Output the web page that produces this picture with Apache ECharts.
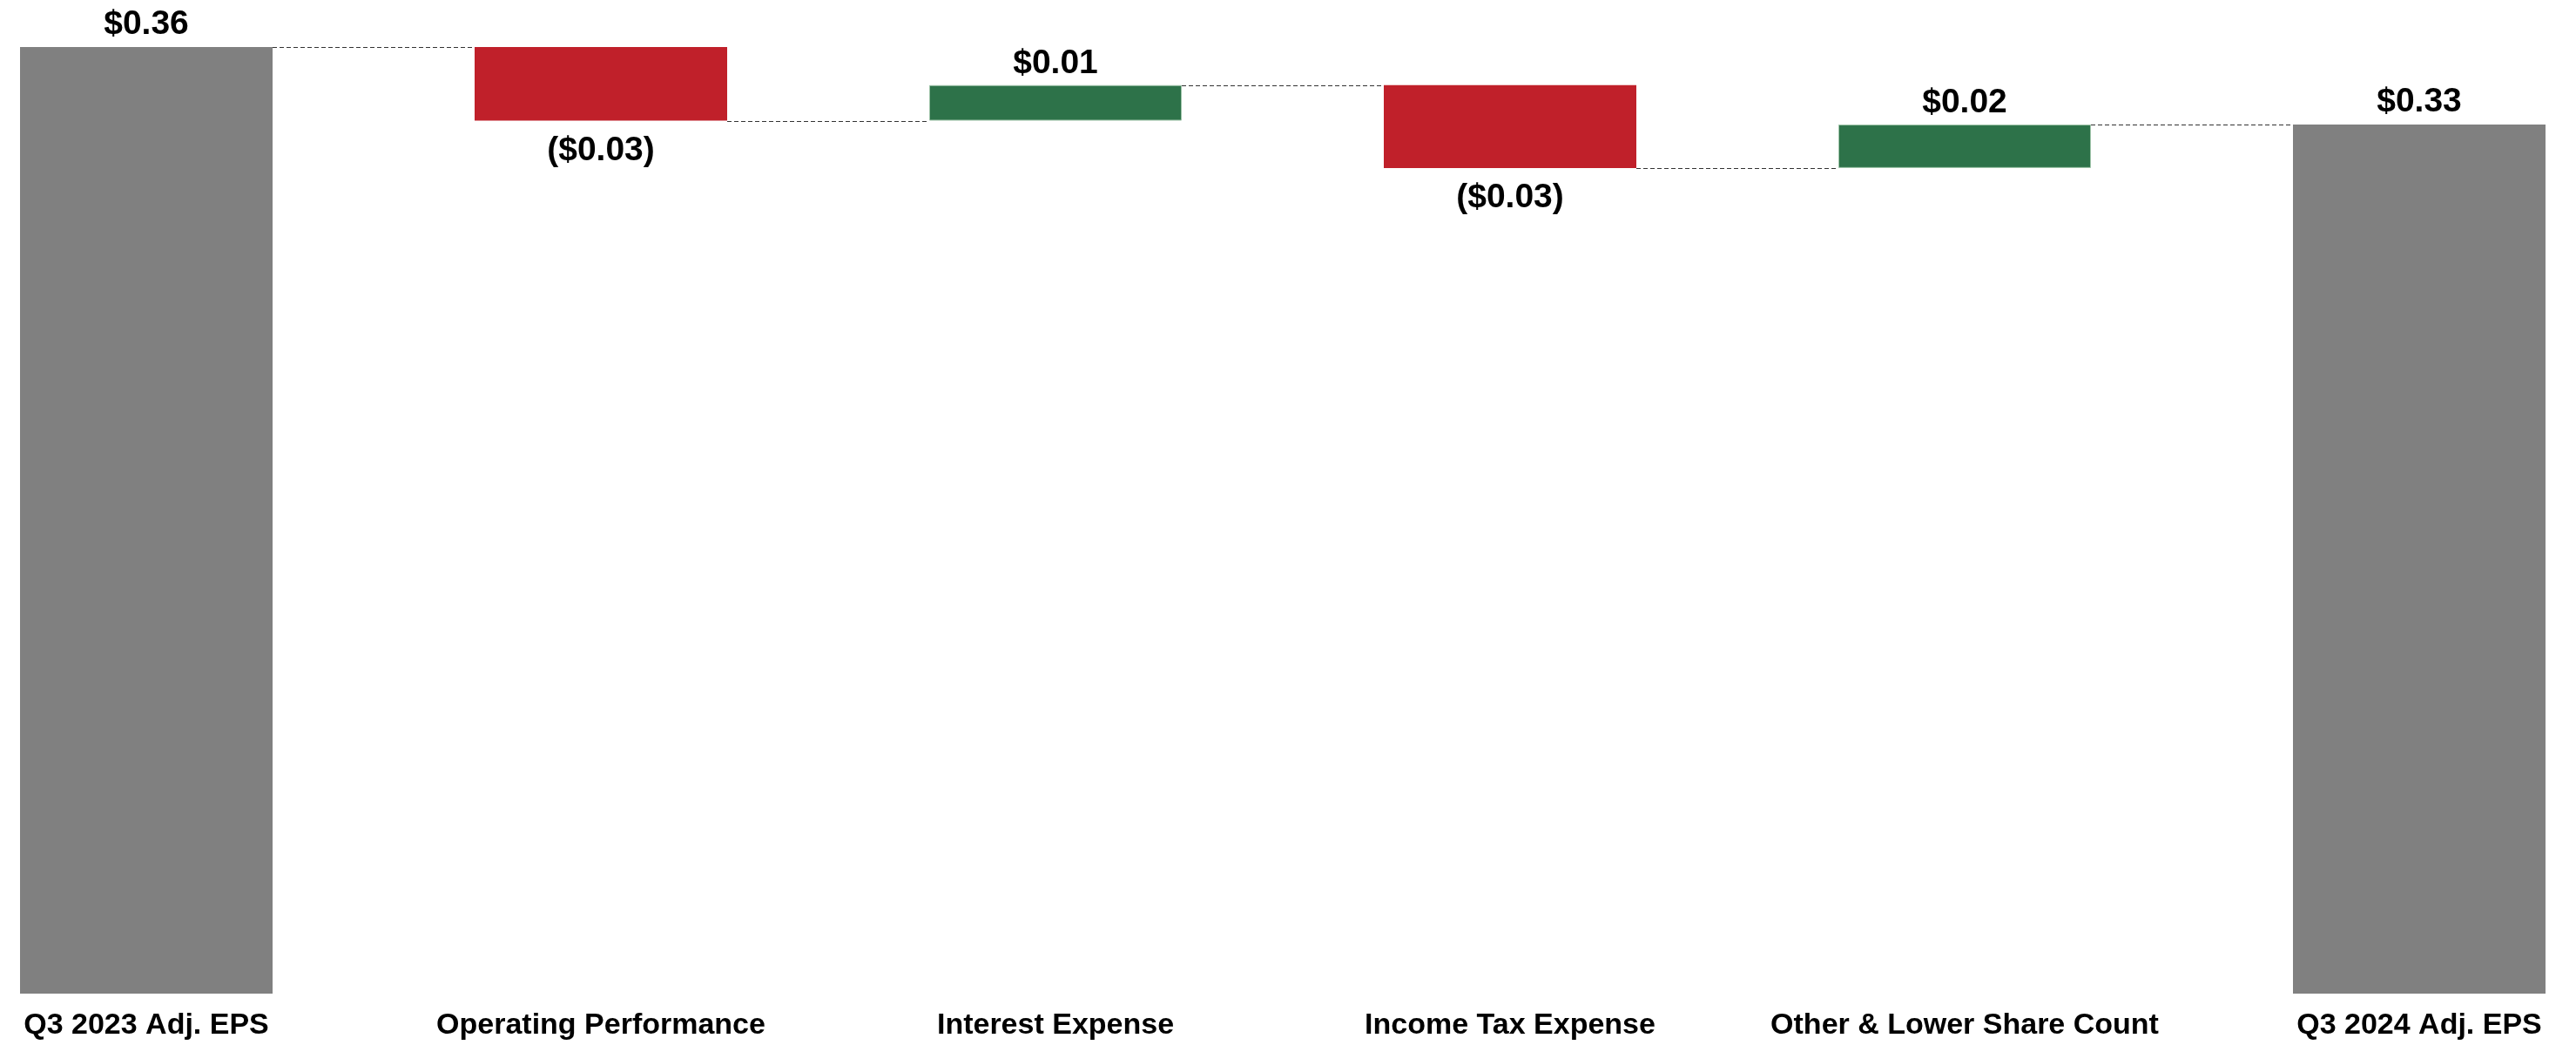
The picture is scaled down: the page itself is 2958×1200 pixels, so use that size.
<!DOCTYPE html>
<html>
<head>
<meta charset="utf-8">
<script src="https://cdn.jsdelivr.net/npm/echarts@6/dist/echarts.min.js"></script>
<style>
html,body{margin:0;padding:0;background:#fff;}
#c{width:2958px;height:1200px;}
</style>
</head>
<body>
<div id="c"></div>
<script>
// ---- data ----
const categories = ["Q3 2023 Adj. EPS", "Operating Performance", "Interest Expense", "Income Tax Expense", "Other & Lower Share Count", "Q3 2024 Adj. EPS"];
const kinds = ["total", "delta", "delta", "delta", "delta", "total"];
const values = [0.36, -0.028, 0.0135, -0.0315, 0.0165, 0.3305];
const valueLabels = ["$0.36", "($0.03)", "$0.01", "($0.03)", "$0.02", "$0.33"];

// ---- build waterfall ----
const GRAY = "#808080", RED = "#C0202A", GREEN = "#2D7249";
const FONT = "'Liberation Sans', Arial, sans-serif";
const BAR_W = 290;

let level = 0;
const baseData = [], barData = [], levelsAfter = [];
for (let i = 0; i < categories.length; i++) {
  const v = values[i];
  if (kinds[i] === "total") {
    baseData.push(0);
    barData.push({
      value: v,
      itemStyle: { color: GRAY },
      label: { position: "top", distance: 6 }
    });
    level = v;
  } else {
    const next = level + v;
    baseData.push(Math.min(level, next));
    barData.push({
      value: Math.abs(v),
      itemStyle: v >= 0 ? { color: GREEN, borderColor: "#9fc4a9", borderWidth: 1 } : { color: RED },
      label: { position: v >= 0 ? "top" : "bottom", distance: v >= 0 ? 5 : 15 }
    });
    level = next;
  }
  levelsAfter.push(level);
}
const connectorData = [];
for (let i = 0; i < categories.length - 1; i++) connectorData.push([i, levelsAfter[i]]);

const chart = echarts.init(document.getElementById("c"), null, { renderer: "canvas" });
chart.setOption({
  animation: false,
  backgroundColor: "#fff",
  grid: { left: 168, right: 180, top: 23.8, bottom: 59, containLabel: false },
  xAxis: {
    type: "category",
    data: categories,
    boundaryGap: false,
    axisLine: { show: false },
    axisTick: { show: false },
    splitLine: { show: false },
    axisLabel: {
      interval: 0,
      margin: 20,
      color: "#000",
      fontFamily: FONT,
      fontWeight: "bold",
      fontSize: 34
    }
  },
  yAxis: {
    type: "value",
    min: 0,
    max: 0.37,
    show: false,
    splitLine: { show: false }
  },
  series: [
    {
      type: "bar",
      stack: "w",
      barWidth: BAR_W,
      data: baseData,
      itemStyle: { color: "transparent" },
      silent: true
    },
    {
      type: "bar",
      stack: "w",
      barWidth: BAR_W,
      data: barData,
      label: {
        show: true,
        color: "#000",
        fontFamily: FONT,
        fontWeight: "bold",
        fontSize: 39,
        formatter: p => valueLabels[p.dataIndex]
      }
    },
    {
      type: "custom",
      clip: false,
      silent: true,
      data: connectorData,
      renderItem: function (params, api) {
        const i = api.value(0), lv = api.value(1);
        const p1 = api.coord([i, lv]);
        const p2 = api.coord([i + 1, lv]);
        const y = Math.round(p1[1]) + 0.5;
        return {
          type: "line",
          shape: { x1: p1[0] + BAR_W / 2, y1: y, x2: p2[0] - BAR_W / 2, y2: y },
          style: { stroke: "#333", lineWidth: 1.2, lineDash: [5, 3] }
        };
      }
    }
  ]
});
</script>
</body>
</html>
